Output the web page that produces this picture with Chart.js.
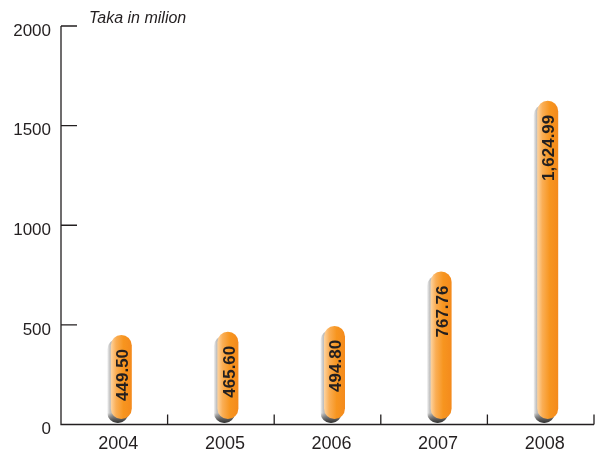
<!DOCTYPE html>
<html>
<head>
<meta charset="utf-8">
<script src="https://cdn.jsdelivr.net/npm/chart.js@4"></script>
<style>
  html, body { margin: 0; padding: 0; background: #fff; }
  canvas { display: block; }
</style>
</head>
<body>
<canvas id="chart" width="596" height="452"></canvas>
<script>
const years = ['2004', '2005', '2006', '2007', '2008'];
const amounts = [449.50, 465.60, 494.80, 767.76, 1624.99];
const yTicks = [0, 500, 1000, 1500, 2000];
const unitLabel = 'Taka in milion';

const ink = '#231f20';

function pill(ctx, left, top, bottom, w) {
    const r = w / 2;
    ctx.beginPath();
    ctx.moveTo(left, top + r);
    ctx.arc(left + r, top + r, r, Math.PI, 0);
    ctx.lineTo(left + w, bottom - r);
    ctx.arc(left + r, bottom - r, r, 0, Math.PI);
    ctx.closePath();
}

const pillBars = {
    id: 'pillBars',
    beforeDatasetsDraw(chart) {
        const { ctx, chartArea: a, scales: { y } } = chart;
        ctx.save();
        ctx.strokeStyle = ink;
        ctx.lineWidth = 1.3;
        ctx.beginPath();
        // axes
        ctx.moveTo(a.left, y.getPixelForValue(yTicks[yTicks.length - 1]));
        ctx.lineTo(a.left, a.bottom);
        ctx.lineTo(a.right, a.bottom);
        // value ticks, pointing inward
        yTicks.forEach(v => {
            if (v === 0) return;
            const py = y.getPixelForValue(v);
            ctx.moveTo(a.left, py);
            ctx.lineTo(a.left + 16, py);
        });
        // category separators
        const step = (a.right - a.left) / years.length;
        years.forEach((_, i) => {
            const px = a.left + step * (i + 1);
            ctx.moveTo(px, a.bottom);
            ctx.lineTo(px, a.bottom - 10);
        });
        ctx.stroke();

        // unit caption
        ctx.font = 'italic 16px "Liberation Sans"';
        ctx.fillStyle = ink;
        ctx.textAlign = 'left';
        ctx.textBaseline = 'alphabetic';
        ctx.fillText(unitLabel, 89, 23);
        ctx.restore();
    },
    afterDatasetsDraw(chart) {
        const { ctx } = chart;
        const meta = chart.getDatasetMeta(0);
        meta.data.forEach((bar, i) => {
            const w = bar.width;
            const cx = bar.x + 7;
            const left = cx - w / 2;
            const top = bar.y;
            const bottom = bar.base - 5.5;

            ctx.save();
            // shadow behind the pill
            const sl = left - 3.5;
            const sg = ctx.createLinearGradient(sl, 0, sl + w, 0);
            sg.addColorStop(0, '#f2f2f2');
            sg.addColorStop(0.12, '#c4c4c4');
            sg.addColorStop(0.3, '#a8a8a8');
            sg.addColorStop(1, '#8a8a8a');
            pill(ctx, sl, top + 4, bottom + 4, w);
            ctx.fillStyle = sg;
            ctx.fill();
            const dg = ctx.createLinearGradient(0, bottom - 6, 0, bottom + 4);
            dg.addColorStop(0, 'rgba(40,40,40,0)');
            dg.addColorStop(1, 'rgba(40,40,40,0.95)');
            ctx.fillStyle = dg;
            ctx.fill();

            // orange body
            const og = ctx.createLinearGradient(left, 0, left + w, 0);
            og.addColorStop(0, '#fdd4a2');
            og.addColorStop(0.25, '#faae55');
            og.addColorStop(0.6, '#f7951f');
            og.addColorStop(1, '#f48a1c');
            pill(ctx, left, top, bottom, w);
            ctx.fillStyle = og;
            ctx.fill();

            // value label, reading bottom to top
            const txt = amounts[i].toLocaleString('en-US', { minimumFractionDigits: 2, maximumFractionDigits: 2 });
            ctx.translate(cx + 2, top + 14);
            ctx.rotate(-Math.PI / 2);
            ctx.font = 'bold 17px "Liberation Sans"';
            ctx.fillStyle = ink;
            ctx.textAlign = 'right';
            ctx.textBaseline = 'middle';
            ctx.fillText(txt, 0, 0);
            ctx.restore();
        });
    }
};

new Chart(document.getElementById('chart').getContext('2d'), {
    type: 'bar',
    data: {
        labels: years,
        datasets: [{
            data: amounts,
            backgroundColor: 'rgba(0,0,0,0)',
            borderWidth: 0,
            barThickness: 21
        }]
    },
    options: {
        responsive: false,
        animation: false,
        devicePixelRatio: 1,
        layout: { padding: { top: 26, right: 2, left: 0, bottom: 0 } },
        plugins: {
            legend: { display: false },
            tooltip: { enabled: false }
        },
        scales: {
            y: {
                min: 0,
                max: 2000,
                afterBuildTicks: s => { s.ticks = yTicks.map(v => ({ value: v })); },
                afterFit: s => { s.width = 61; },
                grid: { display: false },
                border: { display: false },
                ticks: {
                    color: ink,
                    padding: 2,
                    labelOffset: 5,
                    callback: v => String(v),
                    font: { family: 'Liberation Sans', size: 17 }
                }
            },
            x: {
                afterFit: s => { s.height = 27.5; },
                grid: { display: false },
                border: { display: false },
                ticks: {
                    color: ink,
                    padding: 1,
                    labelOffset: 4,
                    font: { family: 'Liberation Sans', size: 18 }
                }
            }
        }
    },
    plugins: [pillBars]
});
</script>
</body>
</html>
